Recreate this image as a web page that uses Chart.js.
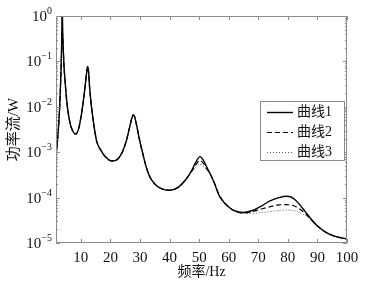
<!DOCTYPE html>
<html>
<head>
<meta charset="utf-8">
<script src="https://cdn.jsdelivr.net/npm/chart.js@4.4.0/dist/chart.umd.min.js"></script>
<style>
  html, body { margin: 0; padding: 0; background: #fff; }
</style>
</head>
<body>
<canvas id="powerChart" width="367" height="289"></canvas>
<script>
// frekuensi (Hz) dan tiga kurva aliran daya (W)
const freq = [1.6, 2.0, 2.5, 2.9, 3.2, 3.45, 3.6, 3.7, 3.8, 4.0, 4.3, 4.7, 5.2, 6.3, 7.3, 8.3, 9.3, 10.25, 11.0, 11.6,
  12.0, 12.3, 12.6, 13.0, 13.6, 14.4, 15.3, 16.8, 18.4, 20.4, 22.4, 24.0, 25.4, 26.6, 27.3, 27.7, 28.2, 28.9, 29.9, 31.0,
  32.2, 33.4, 35.0, 37.0, 40.0, 43.0, 45.5, 47.5, 49.0, 50.3, 51.5, 52.5, 53.7, 55.0, 57.0, 60.4, 62.5, 64.8, 68.0, 71.0,
  74.0, 77.0, 79.7, 82.0, 84.0, 86.0, 88.0, 90.2, 93.0, 96.0, 100];

const curve1 = [8e-4, 1.5e-3, 4e-3, 0.012, 0.04, 0.15, 0.6, 3, 0.8, 0.25, 0.08, 0.035, 0.014, 0.0045, 0.0029, 0.0025, 0.0034, 0.0072, 0.016, 0.035,
  0.06, 0.077, 0.06, 0.025, 0.01, 0.004, 0.0018, 0.0011, 7.8e-4, 6.4e-4, 7e-4, 1e-3, 1.8e-3, 3.8e-3, 5.8e-3, 6.7e-3, 6e-3, 3.8e-3, 1.8e-3, 9e-4,
  4.5e-4, 2.8e-4, 2e-4, 1.6e-4, 1.45e-4, 1.7e-4, 2.5e-4, 4e-4, 6.2e-4, 8e-4, 6.5e-4, 4.8e-4, 3.4e-4, 2.2e-4, 1.05e-4, 5.9e-5, 5e-5, 4.7e-5, 5.2e-5, 6.5e-5,
  8.5e-5, 1e-4, 1.07e-4, 9.5e-5, 7e-5, 4.8e-5, 3.3e-5, 2.3e-5, 1.7e-5, 1.4e-5, 1.23e-5];

const curve2 = [8e-4, 1.5e-3, 4e-3, 0.012, 0.04, 0.15, 0.4, 0.5, 0.4, 0.25, 0.08, 0.035, 0.014, 0.0045, 0.0029, 0.0025, 0.0034, 0.0072, 0.016, 0.035,
  0.06, 0.076, 0.06, 0.025, 0.01, 0.004, 0.0018, 0.0011, 7.8e-4, 6.4e-4, 7e-4, 1e-3, 1.8e-3, 3.8e-3, 5.8e-3, 6.6e-3, 6e-3, 3.8e-3, 1.8e-3, 9e-4,
  4.5e-4, 2.8e-4, 2e-4, 1.6e-4, 1.45e-4, 1.7e-4, 2.5e-4, 3.8e-4, 5.4e-4, 6.5e-4, 5.6e-4, 4.4e-4, 3.3e-4, 2.2e-4, 1.05e-4, 5.9e-5, 4.9e-5, 4.6e-5, 4.9e-5, 5.6e-5,
  6.3e-5, 6.9e-5, 7e-5, 6.6e-5, 5.6e-5, 4.4e-5, 3.2e-5, 2.3e-5, 1.7e-5, 1.4e-5, 1.23e-5];

const curve3 = [8e-4, 1.5e-3, 4e-3, 0.012, 0.04, 0.15, 0.3, 0.35, 0.3, 0.22, 0.08, 0.035, 0.014, 0.0045, 0.0029, 0.0025, 0.0034, 0.0072, 0.016, 0.035,
  0.06, 0.075, 0.06, 0.025, 0.01, 0.004, 0.0018, 0.0011, 7.8e-4, 6.4e-4, 7e-4, 1e-3, 1.8e-3, 3.8e-3, 5.7e-3, 6.5e-3, 5.9e-3, 3.8e-3, 1.8e-3, 9e-4,
  4.5e-4, 2.8e-4, 2e-4, 1.6e-4, 1.45e-4, 1.7e-4, 2.5e-4, 3.6e-4, 4.7e-4, 5.4e-4, 4.9e-4, 4.1e-4, 3.2e-4, 2.2e-4, 1.05e-4, 5.9e-5, 4.8e-5, 4.5e-5, 4.5e-5, 4.7e-5,
  4.9e-5, 5.2e-5, 5.3e-5, 5.2e-5, 4.7e-5, 4e-5, 3.1e-5, 2.3e-5, 1.7e-5, 1.4e-5, 1.23e-5];

const seriesNames = ['曲线1', '曲线2', '曲线3'];
const xTicks = [10, 20, 30, 40, 50, 60, 70, 80, 90, 100];
const yExps = [0, -1, -2, -3, -4, -5];

const serif = "'Liberation Serif', 'Noto Sans CJK SC', serif";
const frameColor = '#8a8a8a';

function toPoints(vals) {
  return freq.map((f, i) => ({ x: f, y: vals[i] }));
}

// kotak sumbu + tick ke dalam + label 10^n
const axesBox = {
  id: 'axesBox',
  afterDatasetsDraw(chart) {
    const { ctx, chartArea: a, scales: { x, y } } = chart;
    ctx.save();
    ctx.strokeStyle = frameColor;
    ctx.lineWidth = 1;
    ctx.beginPath();
    ctx.rect(a.left + 0.5, a.top + 0.5, a.right - a.left - 1, a.bottom - a.top - 1);
    xTicks.forEach(v => {
      const px = Math.round(x.getPixelForValue(v)) + 0.5;
      ctx.moveTo(px, a.bottom); ctx.lineTo(px, a.bottom - 4);
      ctx.moveTo(px, a.top); ctx.lineTo(px, a.top + 4);
    });
    yExps.forEach(e => {
      if (e === 0) return;
      for (let k = 1; k <= 9; k++) {
        const py = Math.round(y.getPixelForValue(k * Math.pow(10, e))) + 0.5;
        const len = k === 1 ? 4 : 2;
        ctx.moveTo(a.left, py); ctx.lineTo(a.left + len, py);
        ctx.moveTo(a.right, py); ctx.lineTo(a.right - len, py);
      }
    });
    ctx.stroke();

    // label sumbu y
    ctx.fillStyle = '#111';
    ctx.textAlign = 'right';
    ctx.textBaseline = 'alphabetic';
    yExps.forEach(e => {
      const py = y.getPixelForValue(Math.pow(10, e));
      const exp = e < 0 ? '\u2212' + (-e) : String(e);
      ctx.font = '10px ' + serif;
      const ew = ctx.measureText(exp).width;
      const rx = a.left - 4;
      ctx.fillText(exp, rx, py - 2);
      ctx.font = '15px ' + serif;
      ctx.fillText('10', rx - ew, py + 5);
    });
    ctx.restore();
  },
  afterDraw(chart) {
    // legenda di dalam area grafik
    const { ctx } = chart;
    const bx = 260, by = 101, bw = 84, bh = 59;
    ctx.save();
    ctx.fillStyle = '#fff';
    ctx.fillRect(bx, by, bw, bh);
    ctx.strokeStyle = frameColor;
    ctx.lineWidth = 1;
    ctx.strokeRect(bx + 0.5, by + 0.5, bw, bh);
    chart.data.datasets.forEach((ds, i) => {
      const cy = 112 + i * 20 + 0.5;
      ctx.strokeStyle = ds.borderColor;
      ctx.lineWidth = ds.borderWidth;
      ctx.setLineDash(ds.borderDash || []);
      ctx.beginPath();
      ctx.moveTo(267, cy);
      ctx.lineTo(293, cy);
      ctx.stroke();
      ctx.setLineDash([]);
      ctx.fillStyle = '#111';
      ctx.font = '14px ' + serif;
      ctx.textAlign = 'left';
      ctx.textBaseline = 'middle';
      ctx.fillText(ds.label, 297, cy);
    });
    ctx.restore();
  }
};

const powerChart = new Chart(document.getElementById('powerChart'), {
  type: 'line',
  data: {
    datasets: [
      { label: seriesNames[0], data: toPoints(curve1), borderColor: '#000', borderWidth: 1.4 },
      { label: seriesNames[1], data: toPoints(curve2), borderColor: '#000', borderWidth: 1.2, borderDash: [5, 3] },
      { label: seriesNames[2], data: toPoints(curve3), borderColor: '#555', borderWidth: 1, borderDash: [1, 2] }
    ]
  },
  options: {
    responsive: false,
    animation: false,
    devicePixelRatio: 1,
    elements: {
      point: { radius: 0 },
      line: { cubicInterpolationMode: 'monotone', fill: false }
    },
    layout: { padding: { left: 0, top: 16, right: 20, bottom: 0 } },
    plugins: {
      legend: { display: false },
      tooltip: { enabled: false }
    },
    scales: {
      x: {
        type: 'linear',
        min: 1.6,
        max: 100,
        grid: { display: false, drawTicks: false },
        border: { display: false },
        afterBuildTicks: s => { s.ticks = xTicks.map(v => ({ value: v })); },
        afterFit: s => { s.height = 46; },
        ticks: { color: '#111', font: { family: serif, size: 15 }, padding: 6, maxRotation: 0, autoSkip: false },
        title: { display: true, text: '频率/Hz', color: '#111', font: { family: serif, size: 14 }, padding: { top: 0, bottom: 8 } }
      },
      y: {
        type: 'logarithmic',
        min: 1e-5,
        max: 1,
        grid: { display: false, drawTicks: false },
        border: { display: false },
        afterBuildTicks: s => { s.ticks = yExps.map(e => ({ value: Math.pow(10, e) })); },
        afterFit: s => { s.width = 56; },
        ticks: { display: false },
        title: { display: true, text: '功率流/W', color: '#111', font: { family: serif, size: 15 }, padding: { top: 5, bottom: 0 } }
      }
    }
  },
  plugins: [axesBox]
});
</script>
</body>
</html>
